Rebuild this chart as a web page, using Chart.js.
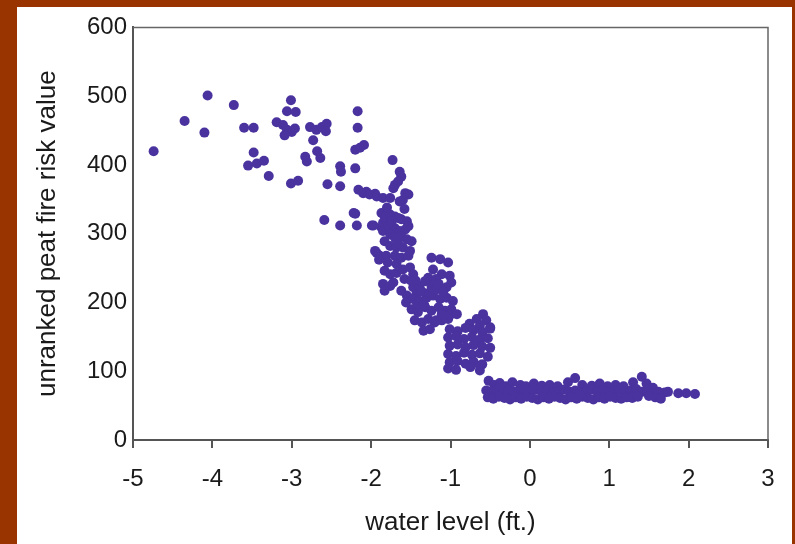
<!DOCTYPE html>
<html><head><meta charset="utf-8">
<script src="https://cdn.jsdelivr.net/npm/chart.js@4/dist/chart.umd.min.js"></script>
<style>
html,body{margin:0;padding:0;background:#993300;width:795px;height:544px;overflow:hidden}
#frame{position:absolute;left:17px;top:7px;width:775px;height:537px;background:#fff}
canvas{display:block}
</style></head><body>
<div id="frame"><canvas id="c" width="775" height="537"></canvas></div>
<script>
// Axis settings
const xTitle = 'water level (ft.)';
const yTitle = 'unranked peat fire risk value';
const xRange = [-5, 3];
const yRange = [0, 600];

// Dry (low water level) sparse points
const dryX = [-4.74,-4.35,-4.06,-4.10,-3.73,-3.60,-3.48,-3.48,-3.55,-3.44,-3.35,-3.29,-3.01,-3.06,-2.95,-3.19,-3.11,-3.06,-3.00,-2.96,-3.09,-3.01,-2.92,-2.83,-2.81,-2.73,-2.68,-2.64,-2.77,-2.69,-2.62,-2.56,-2.57,-2.55,-2.39,-2.38,-2.39,-2.59,-2.39,-2.20,-2.17,-2.17,-2.20,-2.14,-2.09,-2.20,-2.18,-1.99];
const dryY = [420,464,501,447,487,454,454,418,399,402,406,384,494,478,477,462,458,451,448,453,443,373,377,412,405,436,420,410,455,451,455,460,449,372,398,390,369,320,312,395,478,454,422,425,429,329,312,312];

// Transition band points
const slopeX = [-2.16,-2.06,-1.95,-1.73,-1.87,-1.85,-1.93,-1.89,-1.64,-1.62,-1.66,-1.70,-1.72,-1.57,-1.53,-1.60,-1.64,-2.10,-2.02,-1.93,-1.85,-1.76,-2.22,-1.97,
 -1.87,-1.83,-1.76,-1.70,-1.66,-1.62,-1.55,-1.85,-1.78,-1.70,-1.64,-1.57,-1.53,-1.76,-1.70,-1.62,-1.55,-1.49,-1.83,-1.76,-1.68,-1.60,-1.51,
 -1.95,-1.81,-1.70,-1.62,-1.53,-1.24,-1.83,-1.76,-1.68,-1.60,-1.51,-1.47,-1.85,-1.76,-1.83,-1.72,-1.62,-1.55,-1.47,-1.43,-1.13,-1.03,
 -1.22,-1.11,-1.01,-1.28,-1.18,-1.39,-1.32,-1.24,-1.15,-1.05,-0.99,-1.47,-1.39,-1.30,-1.22,-1.13,-1.05,-0.97,
 -1.49,-1.41,-1.32,-1.24,-1.15,-1.07,-0.99,-1.45,-1.36,-1.28,-1.20,-1.11,-1.03,-1.34,-1.26,-1.11,-1.01,-0.92,-1.18,
 -1.80,-1.74,-1.58,-1.66,-1.90,-1.79,-1.68,-1.58,-1.44,-1.36,-1.27,-1.19,-1.09,-1.42,-1.33,-1.56,-1.50];
const slopeY = [364,361,358,407,309,304,272,268,390,383,376,371,366,359,357,349,347,359,357,354,352,352,330,312,
 330,325,328,325,323,321,318,316,311,308,304,306,311,299,294,296,292,289,289,282,280,280,275,
 275,268,268,265,268,265,246,241,243,248,251,241,227,224,217,229,217,210,222,212,263,258,
 248,241,239,236,234,224,231,224,227,222,229,205,202,207,210,205,207,202,
 190,186,193,188,193,188,190,174,171,176,171,174,176,159,161,183,181,183,174,
 338,318,336,286,262,258,256,234,232,216,214,218,216,198,196,200,232];

// Saturation step cluster near -1 to -0.5 ft
const stepX = [-0.59,-0.67,-0.55,-0.76,-0.63,-0.50,
 -1.01,-0.91,-0.81,-0.71,-0.60,-0.50,
 -1.03,-0.93,-0.83,-0.73,-0.63,-0.53,
 -1.01,-0.91,-0.81,-0.71,-0.60,-0.50,
 -1.03,-0.93,-0.83,-0.73,-0.63,-0.53,
 -1.01,-0.91,-0.81,-0.71,-0.60,
 -1.03,-0.93,-0.75,-0.63,-0.63];
const stepY = [183,176,174,169,166,164,
 161,158,163,160,157,162,
 149,151,147,150,146,148,
 137,139,135,138,136,134,
 125,122,127,124,126,121,
 113,115,111,114,110,
 104,102,106,101,108];

// Flooded (high water level) flat band
const wetX = [-0.52,-0.45,-0.38,-0.30,-0.22,-0.12,-0.05,0.05,0.15,0.25,0.35,0.48,0.57,0.66,0.78,0.88,0.98,1.08,1.18,1.30,1.41,1.47,1.55,
 -0.55,-0.48,-0.41,-0.34,-0.27,-0.20,-0.13,-0.06,0.01,0.08,0.15,0.22,0.29,0.36,0.43,0.50,0.57,0.64,0.71,0.78,0.85,0.92,0.99,1.06,1.13,1.20,1.27,1.34,1.41,1.48,1.55,1.62,1.70,
 -0.53,-0.46,-0.39,-0.32,-0.25,-0.18,-0.11,-0.04,0.03,0.10,0.17,0.24,0.31,0.38,0.45,0.52,0.59,0.66,0.73,0.80,0.87,0.94,1.01,1.08,1.15,1.22,1.29,1.36,1.50,1.58,1.65,
 1.74,1.87,1.97,2.08];
const wetY = [86,80,83,78,84,80,78,82,79,80,78,84,90,80,79,82,78,80,78,84,92,82,76,
 72,70,73,69,72,70,73,69,71,73,70,72,69,71,73,70,72,69,71,73,70,72,69,71,73,70,72,74,70,72,68,70,69,
 62,60,63,61,59,62,60,63,61,59,62,60,63,61,59,62,60,63,61,59,62,60,63,61,60,62,61,63,64,62,60,
 70,68,68,67];

function pairs(xs, ys){ return xs.map((x,i)=>({x:x, y:ys[i]})); }
const points = [].concat(pairs(dryX,dryY), pairs(slopeX,slopeY), pairs(stepX,stepY), pairs(wetX,wetY));

const FONT = "'Liberation Sans', Arial, Helvetica, sans-serif";
const framePlugin = {
  id:'frameBox',
  afterDraw(chart){
    const {ctx, chartArea:a} = chart;
    ctx.save();
    ctx.strokeStyle = '#666';
    ctx.lineWidth = 1.5;
    ctx.beginPath();
    ctx.moveTo(a.left, a.top); ctx.lineTo(a.right, a.top); ctx.lineTo(a.right, a.bottom);
    ctx.stroke();
    ctx.restore();
  }
};

new Chart(document.getElementById('c'), {
  type:'scatter',
  data:{datasets:[{data:points, backgroundColor:'#4a339e', borderWidth:0, pointRadius:5, pointHoverRadius:5}]},
  options:{
    responsive:false, animation:false, events:[],
    layout:{padding:{top:18,right:24,left:0,bottom:0}},
    plugins:{legend:{display:false}, tooltip:{enabled:false}},
    scales:{
      x:{type:'linear', min:xRange[0], max:xRange[1],
        ticks:{stepSize:1, font:{family:FONT,size:24}, color:'#1a1a1a', padding:17, maxRotation:0},
        grid:{drawOnChartArea:false, drawTicks:true, tickLength:8, color:'#555', lineWidth:2},
        border:{color:'#555', width:2},
        title:{display:true, text:xTitle, font:{family:FONT,size:26}, color:'#1a1a1a', padding:{top:0,bottom:6}},
        afterFit(s){ s.height = 104; }
      },
      y:{type:'linear', min:yRange[0], max:yRange[1],
        ticks:{stepSize:100, font:{family:FONT,size:24}, color:'#1a1a1a', padding:6},
        grid:{drawOnChartArea:false, drawTicks:false},
        border:{color:'#555', width:2},
        title:{display:true, text:yTitle, font:{family:FONT,size:26}, color:'#1a1a1a', padding:{top:15,bottom:0}},
        afterFit(s){ s.width = 116; }
      }
    }
  },
  plugins:[framePlugin]
});
</script>
</body></html>
